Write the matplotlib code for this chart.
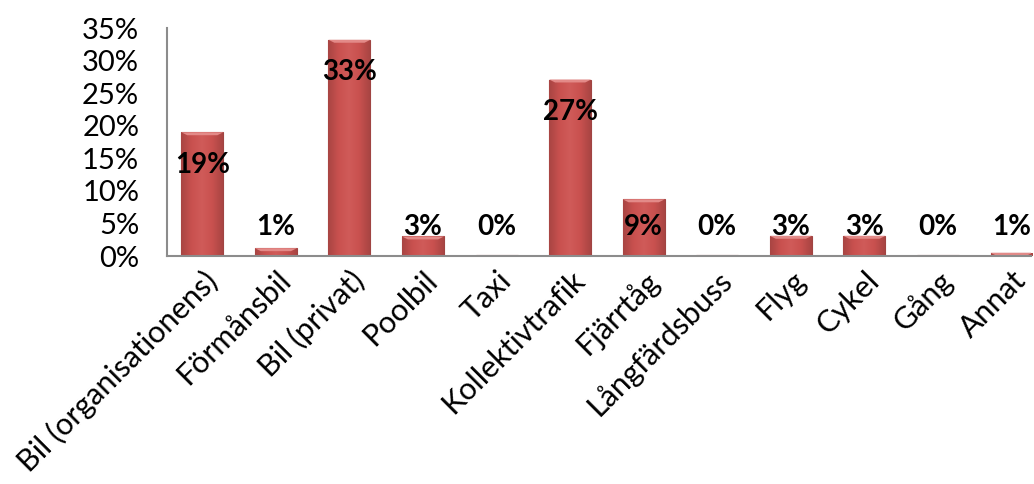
import numpy as np
import matplotlib.pyplot as plt
from matplotlib.colors import LinearSegmentedColormap
from matplotlib.ticker import FuncFormatter

# travel mode shares (fraction of respondents)
categories = ['Bil (organisationens)', 'Förmånsbil', 'Bil (privat)', 'Poolbil',
              'Taxi', 'Kollektivtrafik', 'Fjärrtåg', 'Långfärdsbuss', 'Flyg',
              'Cykel', 'Gång', 'Annat']
values = [0.190, 0.012, 0.332, 0.030, 0.001, 0.271, 0.087, 0.001, 0.031,
          0.031, 0.001, 0.005]
labels = ['19%', '1%', '33%', '3%', '0%', '27%', '9%', '0%', '3%', '3%',
          '0%', '1%']

EDGE = '#A04442'
FONT = ['Lato', 'DejaVu Sans']
plt.rcParams['font.family'] = FONT

# horizontal shading across each bar (darker sides, lighter middle)
shade = LinearSegmentedColormap.from_list(
    'bar', ['#A94543', '#C9514F', '#D05B59', '#C9514F', '#A94543'])

fig = plt.figure(figsize=(10.34, 4.84), dpi=100)
ax = fig.add_axes([0.1615, 0.471, 0.836, 0.471])

x = range(len(categories))
bars = ax.bar(x, values, width=0.57, color='#C9504F', edgecolor=EDGE,
              linewidth=0.8, zorder=2)
grad = np.linspace(0, 1, 64).reshape(1, -1)
for b in bars:
    x0, w, h = b.get_x(), b.get_width(), b.get_height()
    im = ax.imshow(grad, cmap=shade, aspect='auto', zorder=2.1,
                   extent=(x0, x0 + w, 0, h), interpolation='bicubic')
    im.set_clip_path(b)
    # light bevel at the top of the bar
    bev = min(h, 0.0045)
    ax.fill([x0, x0 + w, x0 + w - 0.08, x0 + 0.08],
            [h, h, h - bev, h - bev], color='#E38A88', lw=0, zorder=2.2)

ax.set_ylim(0, 0.35)

# Excel-style "inside end" labels, pushed up when the bar is too short
for xi, v, lab in zip(x, values, labels):
    y = max(v - 0.05, 0.044)
    ax.text(xi, y, lab, ha='center', va='center', fontsize=20,
            fontweight='bold', color='black', zorder=3)

ax.set_yticks([i * 0.05 for i in range(8)])
ax.yaxis.set_major_formatter(FuncFormatter(lambda v, p: f'{v * 100:.0f}%'))
ax.set_xlim(-0.48, 11.27)
ax.set_xticks(list(x))
ax.set_xticklabels(categories, rotation=45, ha='right',
                   rotation_mode='anchor')

ax.tick_params(axis='y', length=0, pad=20, labelsize=21)
ax.tick_params(axis='x', length=0, pad=7, labelsize=22)

for s in ('top', 'right'):
    ax.spines[s].set_visible(False)
for s in ('left', 'bottom'):
    ax.spines[s].set_color('#8C8C8C')
    ax.spines[s].set_linewidth(1.5)

fig.savefig('out.png', dpi=100)
